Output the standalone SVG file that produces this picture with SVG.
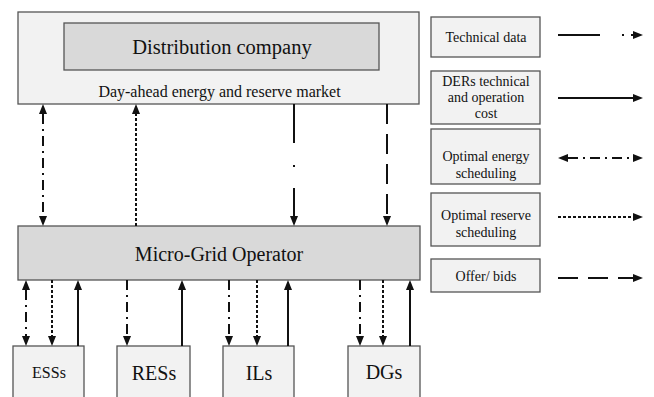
<svg xmlns="http://www.w3.org/2000/svg" width="654" height="397" viewBox="0 0 654 397">
<style>
.box{fill:#f2f2f2;stroke:#555;stroke-width:1.3}
.dark{fill:#d9d9d9;stroke:#555;stroke-width:1.3}
text{font-family:"Liberation Serif","Times New Roman",serif;fill:#111;text-anchor:middle}
.c line{stroke:#111;stroke-width:2;fill:none}
.dd{stroke-dasharray:10 5 2 5}
.dt{stroke-dasharray:3 2}
.ld{stroke-dasharray:20 10}
</style>
<defs>
<marker id="ah" viewBox="0 0 10 8" markerWidth="10" markerHeight="8" refX="0" refY="4" orient="auto-start-reverse" markerUnits="userSpaceOnUse">
<path d="M0,0 L10,4 L0,8 z" fill="#111"/>
</marker>
</defs>
<rect width="654" height="397" fill="#fff"/>
<g id="dso">
<rect class="box" x="18" y="12" width="401" height="92"/>
<rect class="dark" x="64" y="23" width="315" height="47"/>
<text x="222" y="54" font-size="20.5">Distribution company</text>
<text x="219.5" y="97" font-size="16">Day-ahead energy and reserve market</text>
</g>
<g id="mgo">
<rect class="dark" x="18" y="226" width="402" height="54"/>
<text x="219" y="261" font-size="20">Micro-Grid Operator</text>
</g>
<g id="ess"><rect class="box" x="13" y="346" width="71" height="60"/><text x="49" y="378" font-size="16">ESSs</text></g>
<g id="res"><rect class="box" x="117" y="346" width="73" height="60"/><text x="154" y="380" font-size="20">RESs</text></g>
<g id="ils"><rect class="box" x="223" y="346" width="71" height="60"/><text x="259" y="380" font-size="20">ILs</text></g>
<g id="dgs"><rect class="box" x="348" y="346" width="72" height="60"/><text x="384" y="379" font-size="20">DGs</text></g>
<g id="leg-tech"><rect class="box" x="431" y="17" width="109" height="40"/><text x="486" y="42" font-size="14">Technical data</text></g>
<g id="leg-der"><rect class="box" x="431" y="71" width="109" height="53"/>
<text x="486" y="86" font-size="14">DERs technical</text><text x="486" y="102" font-size="14">and operation</text><text x="486" y="118" font-size="14">cost</text></g>
<g id="leg-energy"><rect class="box" x="431" y="129" width="109" height="55"/>
<text x="486" y="161" font-size="14">Optimal energy</text><text x="486" y="178" font-size="14">scheduling</text></g>
<g id="leg-reserve"><rect class="box" x="431" y="193" width="109" height="53"/>
<text x="486" y="220" font-size="14">Optimal reserve</text><text x="486" y="237" font-size="14">scheduling</text></g>
<g id="leg-offer"><rect class="box" x="431" y="259" width="109" height="33"/>
<text x="486" y="281" font-size="14">Offer/ bids</text></g>
<g id="connectors" class="c">
<line class="dd" x1="43" y1="114" x2="43" y2="216" marker-start="url(#ah)" marker-end="url(#ah)"/>
<line class="dt" x1="136" y1="226" x2="136" y2="114" marker-end="url(#ah)"/>
<line x1="294" y1="104" x2="294" y2="143"/>
<rect x="293" y="165" width="2" height="2" fill="#111"/>
<line x1="294" y1="188" x2="294" y2="216" marker-end="url(#ah)"/>
<line class="ld" x1="387" y1="104" x2="387" y2="216" marker-end="url(#ah)"/>
<line class="dd" x1="26" y1="290" x2="26" y2="336" marker-start="url(#ah)" marker-end="url(#ah)"/>
<line class="dt" x1="52" y1="280" x2="52" y2="336" marker-end="url(#ah)"/>
<line x1="78" y1="346" x2="78" y2="290" marker-end="url(#ah)"/>
<line class="dd" x1="127" y1="280" x2="127" y2="336" marker-end="url(#ah)"/>
<line x1="182" y1="346" x2="182" y2="290" marker-end="url(#ah)"/>
<line class="dd" x1="229" y1="280" x2="229" y2="336" marker-end="url(#ah)"/>
<line class="dt" x1="257" y1="280" x2="257" y2="336" marker-end="url(#ah)"/>
<line x1="288" y1="346" x2="288" y2="290" marker-end="url(#ah)"/>
<line class="dd" x1="360" y1="280" x2="360" y2="336" marker-end="url(#ah)"/>
<line class="dt" x1="383" y1="280" x2="383" y2="336" marker-end="url(#ah)"/>
<line x1="410" y1="346" x2="410" y2="290" marker-end="url(#ah)"/>
<line x1="558" y1="35" x2="600" y2="35"/>
<rect x="622" y="34" width="2" height="2" fill="#111"/>
<line x1="631" y1="35" x2="633" y2="35" marker-end="url(#ah)"/>
<line x1="558" y1="98" x2="633" y2="98" marker-end="url(#ah)"/>
<line class="dd" x1="568" y1="158" x2="633" y2="158" marker-start="url(#ah)" marker-end="url(#ah)"/>
<line class="dt" x1="558" y1="217" x2="633" y2="217" marker-end="url(#ah)"/>
<line class="ld" x1="558" y1="278" x2="633" y2="278" marker-end="url(#ah)"/>
</g>
</svg>
